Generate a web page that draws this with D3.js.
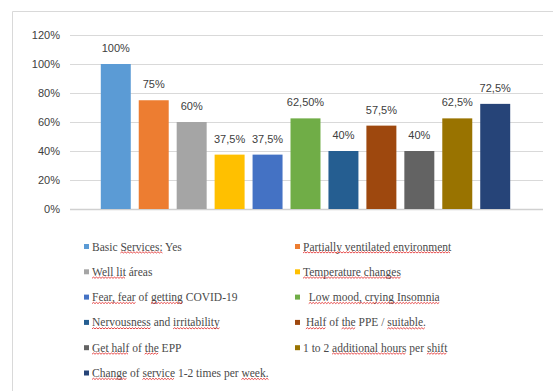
<!DOCTYPE html>
<html><head><meta charset="utf-8">
<script src="https://cdn.jsdelivr.net/npm/d3@7"></script>
<style>body{margin:0;background:#fff}svg{display:block}</style>
</head><body>
<svg id="c" width="553" height="391"></svg>
<script>
const categories = ["Basic Services: Yes","Partially ventilated environment","Well lit áreas","Temperature changes","Fear, fear of getting COVID-19","  Low mood, crying Insomnia","Nervousness and irritability"," Half of the PPE / suitable.","Get half of the EPP","1 to 2 additional hours per shift","Change of service 1-2 times per week."];
const values = [100,75,60,37.5,37.5,62.5,40,57.5,40,62.5,72.5];
const valueLabels = ["100%","75%","60%","37,5%","37,5%","62,50%","40%","57,5%","40%","62,5%","72,5%"];
const colors = ["#5B9BD5","#ED7D31","#A5A5A5","#FFC000","#4472C4","#70AD47","#255E91","#9E480E","#636363","#997300","#264478"];
const yTicks = [0,20,40,60,80,100,120];
const underlined = [["Services:"],["Partially ventilated environment"],["Well lit"],["Temperature changes"],["Fear, fear","getting"],["Low mood, crying Insomnia"],["Nervousness","irritability"],["Half","the","suitable."],["Get half","the"],["additional hours","shift"],["Change","service","week."]];

const svg = d3.select("#c");
// frame
svg.append("path").attr("d","M12.5,391 V11.5 H553").attr("fill","none").attr("stroke","#d9d9d9");

const y = d3.scaleLinear().domain([0,120]).range([209,35]);
const x = d3.scaleBand().domain(d3.range(categories.length)).range([97,514]).paddingInner(0.21).paddingOuter(0.1);

const gy = svg.append("g").attr("transform","translate(70,0)")
  .call(d3.axisLeft(y).tickValues(yTicks).tickFormat(d=>d+"%").tickSize(-473).tickPadding(10));
gy.select(".domain").remove();
gy.selectAll(".tick line").attr("stroke","#d9d9d9").attr("stroke-width",1);
gy.selectAll(".tick text").attr("fill","#404040").style("font-family","Liberation Sans, Arial, sans-serif").style("font-size","11px");
gy.selectAll(".tick").filter(d=>d===0).select("line").attr("stroke","#d0d0d0").attr("stroke-width",1.5);

svg.append("g").selectAll("rect").data(values).join("rect")
  .attr("x",(d,i)=>x(i)).attr("width",x.bandwidth())
  .attr("y",d=>y(d)).attr("height",d=>y(0)-y(d))
  .attr("fill",(d,i)=>colors[i]);

svg.append("g").selectAll("text").data(values).join("text")
  .attr("x",(d,i)=>x(i)+x.bandwidth()/2).attr("y",d=>y(d)-12)
  .attr("text-anchor","middle").attr("fill","#404040")
  .style("font-family","Liberation Sans, Arial, sans-serif").style("font-size","11px")
  .text((d,i)=>valueLabels[i]);

// legend
const lg = svg.append("g");
categories.forEach((c,i)=>{
  const col = i%2, row = Math.floor(i/2);
  const lx = col===0 ? 84 : 295;
  const ly = 247 + row*25.3;
  lg.append("rect").attr("x",lx).attr("y",ly-3).attr("width",5).attr("height",5).attr("fill",colors[i]);
  const t = lg.append("text").attr("x",lx+8).attr("y",ly+3.5).attr("fill","#4a4a4a")
    .attr("xml:space","preserve").style("white-space","pre")
    .style("font-family","Liberation Serif, Times New Roman, serif").style("font-size","11.5px").text(c);
  const node = t.node();
  underlined[i].forEach(w=>{
    const idx = c.indexOf(w);
    if(idx<0) return;
    const sx = node.getStartPositionOfChar(idx).x;
    const ex = node.getEndPositionOfChar(idx+w.length-1).x;
    let d = "M"+sx+","+(ly+6);
    let up=true;
    for(let px=sx+1.5; px<=ex; px+=1.5){ d += " L"+px+","+(ly+(up?4.8:6)); up=!up; }
    lg.append("path").attr("d",d).attr("fill","none").attr("stroke","#e02020").attr("stroke-width",0.8);
  });
});
</script>
</body></html>
